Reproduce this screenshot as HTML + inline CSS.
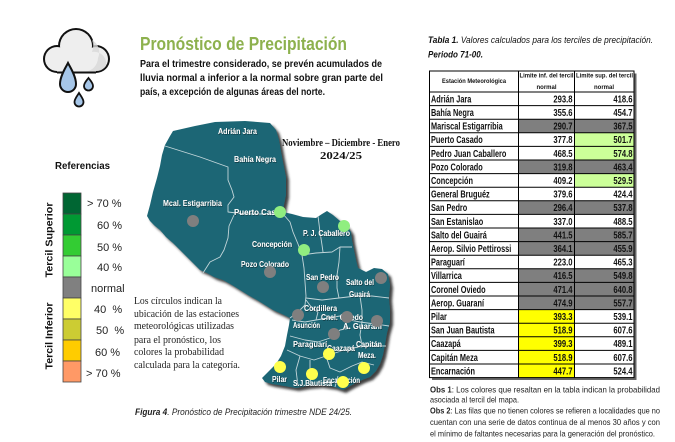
<!DOCTYPE html>
<html><head><meta charset="utf-8"><style>
html,body{margin:0;padding:0;background:#fff;}
svg{display:block;}
</style></head><body>
<svg width="675" height="442" viewBox="0 0 675 442" xmlns="http://www.w3.org/2000/svg">
<defs>
<filter id="sh" x="-10%" y="-10%" width="130%" height="130%">
<feDropShadow dx="3" dy="3" stdDeviation="1.3" flood-color="#222" flood-opacity="0.85"/>
</filter>
<filter id="ts" x="-10%" y="-30%" width="130%" height="160%">
<feDropShadow dx="0.6" dy="0.6" stdDeviation="0.3" flood-color="#000" flood-opacity="0.6"/>
</filter>
</defs>
<rect width="675" height="442" fill="#fff"/>

<!-- Cloud icon -->
<g>
<g fill="#111">
<circle cx="57" cy="59" r="14"/>
<circle cx="76" cy="46" r="18"/>
<circle cx="96" cy="59" r="14"/>
<rect x="57" y="57" width="39" height="16.5"/>
</g>
<g fill="#eeeeee">
<circle cx="57" cy="59" r="12"/>
<circle cx="76" cy="46" r="16"/>
<circle cx="96" cy="59" r="12"/>
<rect x="57" y="59" width="39" height="12.5"/>
</g>
<path d="M92,40 A16,16 0 0 1 92,52 A12,12 0 0 1 106,66 A12,12 0 0 1 96,71 L96,71.5 L86,71.5 A14,14 0 0 0 98,58 A14,14 0 0 0 92,40 Z" fill="#d8d8d8" opacity="0.8"/>
<path d="M68,63 C66,67 60,76 60,84 A8,8 0 0 0 76,84 C76,76 70,67 68,63 Z" fill="#a6c6e8" stroke="#111" stroke-width="2"/>
<path d="M88.5,78 C87,80 84,83 84,86 A4.5,4.5 0 0 0 93,86 C93,83 90,80 88.5,78 Z" fill="#a6c6e8" stroke="#111" stroke-width="1.8"/>
<path d="M79,93 C77.5,95.5 74.5,99 74.5,102 A4.5,4.5 0 0 0 83.5,102 C83.5,99 80.5,95.5 79,93 Z" fill="#a6c6e8" stroke="#111" stroke-width="1.8"/>
</g>

<!-- Title & paragraph -->
<text x="140" y="50" font-family="Liberation Sans, sans-serif" font-weight="bold" font-size="18" fill="#8db14e" textLength="207" lengthAdjust="spacingAndGlyphs">Pronóstico de Precipitación</text>
<g font-family="Liberation Sans, sans-serif" font-weight="bold" font-size="10.5" fill="#111">
<text x="140" y="67" textLength="242" lengthAdjust="spacingAndGlyphs">Para el trimestre considerado, se prevén acumulados de</text>
<text x="140" y="81" textLength="243" lengthAdjust="spacingAndGlyphs">lluvia normal a inferior a la normal sobre gran parte del</text>
<text x="140" y="95" textLength="185" lengthAdjust="spacingAndGlyphs">país, a excepción de algunas áreas del norte.</text>
</g>

<!-- Legend -->
<text x="55" y="169" font-family="Liberation Sans, sans-serif" font-weight="bold" font-size="10.5" fill="#111" textLength="55" lengthAdjust="spacingAndGlyphs">Referencias</text>
<g stroke="#444" stroke-width="0.8">
<rect x="63" y="193" width="18" height="21" fill="#006633"/>
<rect x="63" y="214" width="18" height="21" fill="#009933"/>
<rect x="63" y="235" width="18" height="21" fill="#33cc33"/>
<rect x="63" y="256" width="18" height="21" fill="#99ff99"/>
<rect x="63" y="277" width="18" height="21" fill="#808080"/>
<rect x="63" y="298" width="18" height="21" fill="#ffff66"/>
<rect x="63" y="319" width="18" height="21" fill="#cccc33"/>
<rect x="63" y="340" width="18" height="21" fill="#ffcc00"/>
<rect x="63" y="361" width="18" height="21" fill="#ff9966"/>
</g>
<g font-family="Liberation Sans, sans-serif" font-size="11" fill="#222">
<text x="87" y="207">&gt; 70 %</text>
<text x="97" y="229">60 %</text>
<text x="97" y="251">50 %</text>
<text x="97" y="271">40 %</text>
<text x="91" y="292">normal</text>
<text x="94" y="313">40 &#160;%</text>
<text x="96" y="334">50 &#160;%</text>
<text x="95" y="356">60 %</text>
<text x="86" y="377">&gt; 70 %</text>
</g>
<g font-family="Liberation Sans, sans-serif" font-weight="bold" font-size="10.5" fill="#111">
<text transform="translate(52.5,240) rotate(-90)" text-anchor="middle" textLength="75" lengthAdjust="spacingAndGlyphs">Tercil Superior</text>
<text transform="translate(52.5,336) rotate(-90)" text-anchor="middle" textLength="67" lengthAdjust="spacingAndGlyphs">Tercil Inferior</text>
</g>

<!-- Map -->
<g filter="url(#sh)">
<path d="M173,131 L195,126 L215,122 L245,121 L270,123 L276,130 L279,140 L282,157 L286,177 L286,195 L284,205 L283,212 L292,214 L303,217 L316,218 L322,214 L327,211 L333,215 L340,221 L347,226 L351,232 L352,240 L354,250 L356,260 L358,268 L366,272 L374,268 L382,269 L388,274 L390,285 L389,298 L390,310 L390,322 L387,333 L385,345 L383,355 L380,364 L376,371 L370,377 L362,380 L352,385 L343,390 L334,387 L320,385 L308,386 L296,388 L284,386 L272,384 L265,382 L262,378 L268,372 L276,364 L281,356 L285,346 L287,335 L289,325 L290,318 L282,314 L273,310 L265,305 L257,300 L248,295 L240,290 L232,285 L223,280 L214,277 L207,273 L200,270 L193,263 L187,257 L180,250 L173,243 L166,237 L160,230 L155,226 L150,221 L147,216 L150,205 L153,192 L157,178 L160,166 L162,155 L165,145 L170,136 Z" fill="#1e6674"/>
</g>
<g fill="none" stroke="#c3d6da" stroke-width="0.9" stroke-linejoin="round">
<path d="M165,146 L200,157 L228,167 L228,180 L232,190 L234,197 L228,205 L228,212 L245,214 L283,214"/>
<path d="M234,215 L229,226 L228,238 L224,250 L220,257 L210,262 L203,273"/>
<path d="M283,214 L290,222 L293,232 L298,244 L302,255 L304,268 L305,282 L306,296 L305,305 L298,312 L290,318"/>
<path d="M302,255 L316,253 L332,252 L340,247 L352,247"/>
<path d="M318,216 L320,232 L322,245 L323,252"/>
<path d="M340,247 L339,262 L337,275 L337,288 L339,298"/>
<path d="M306,298 L322,300 L339,298 L356,296 L372,296 L389,298"/>
<path d="M360,296 L362,310 L362,322 L360,335 L362,345"/>
<path d="M306,300 L312,308 L318,312 L316,320"/>
<path d="M292,320 L305,322 L316,320 L328,318 L340,316 L350,320 L360,322 L375,324 L389,326"/>
<path d="M290,336 L305,340 L318,342 L330,338 L340,330 L350,328"/>
<path d="M287,350 L300,356 L314,360 L326,356 L338,352 L352,348 L368,346 L386,346"/>
<path d="M310,360 L310,372 L311,386"/>
<path d="M326,356 L330,368 L340,372 L352,366 L362,362 L374,365"/>
<path d="M300,356 L296,370 L298,386"/>
<path d="M335,387 L338,376"/>
</g>
<g font-family="Liberation Sans, sans-serif" font-weight="bold" font-size="8" fill="#fff" filter="url(#ts)">
<text x="218" y="134" textLength="39" lengthAdjust="spacingAndGlyphs">Adrián Jara</text>
<text x="234" y="162" textLength="42" lengthAdjust="spacingAndGlyphs">Bahía Negra</text>
<text x="163" y="206" textLength="59" lengthAdjust="spacingAndGlyphs">Mcal. Estigarribia</text>
<text x="234" y="215" textLength="46" lengthAdjust="spacingAndGlyphs">Puerto Casa</text>
<text x="303" y="236" textLength="47" lengthAdjust="spacingAndGlyphs">P. J. Caballero</text>
<text x="252" y="247" textLength="40" lengthAdjust="spacingAndGlyphs">Concepción</text>
<text x="241" y="267" textLength="48" lengthAdjust="spacingAndGlyphs">Pozo Colorado</text>
<text x="306" y="280" textLength="33" lengthAdjust="spacingAndGlyphs">San Pedro</text>
<text x="346" y="285" textLength="28" lengthAdjust="spacingAndGlyphs">Salto del</text>
<text x="349" y="297" textLength="21" lengthAdjust="spacingAndGlyphs">Guairá</text>
<text x="304" y="311" textLength="33" lengthAdjust="spacingAndGlyphs">Cordillera</text>
<text x="321" y="320" textLength="42" lengthAdjust="spacingAndGlyphs">Cnel. Oviedo</text>
<text x="293" y="328" textLength="27" lengthAdjust="spacingAndGlyphs">Asunción</text>
<text x="343" y="329" textLength="39" lengthAdjust="spacingAndGlyphs">A. Guaraní</text>
<text x="293" y="347" textLength="34" lengthAdjust="spacingAndGlyphs">Paraguarí</text>
<text x="327" y="351" textLength="28" lengthAdjust="spacingAndGlyphs">Caazapá</text>
<text x="356" y="347" textLength="26" lengthAdjust="spacingAndGlyphs">Capitán</text>
<text x="358" y="358" textLength="18" lengthAdjust="spacingAndGlyphs">Meza.</text>
<text x="272" y="382" textLength="15" lengthAdjust="spacingAndGlyphs">Pilar</text>
<text x="293" y="386" textLength="39" lengthAdjust="spacingAndGlyphs">S.J.Bautista</text>
<text x="323" y="383" textLength="37" lengthAdjust="spacingAndGlyphs">Encarnación</text>
</g>
<g>
<circle cx="193" cy="221" r="6" fill="#7f7f7f"/>
<circle cx="280" cy="212" r="6" fill="#90ee80"/>
<circle cx="344" cy="226" r="6" fill="#90ee80"/>
<circle cx="304" cy="250" r="6" fill="#90ee80"/>
<circle cx="270" cy="272" r="6" fill="#7f7f7f"/>
<circle cx="323" cy="287" r="6" fill="#7f7f7f"/>
<circle cx="381" cy="278" r="6" fill="#7f7f7f"/>
<circle cx="298" cy="315" r="6" fill="#7f7f7f"/>
<circle cx="347" cy="317" r="6" fill="#7f7f7f"/>
<circle cx="377" cy="321" r="6" fill="#7f7f7f"/>
<circle cx="334" cy="334" r="6" fill="#7f7f7f"/>
<circle cx="329" cy="354" r="6" fill="#ffff4d"/>
<circle cx="364" cy="368" r="6" fill="#ffff4d"/>
<circle cx="280" cy="367" r="6" fill="#ffff4d"/>
<circle cx="312" cy="374" r="6" fill="#ffff4d"/>
<circle cx="343" cy="382" r="6" fill="#ffff4d"/>
</g>

<!-- Map header -->
<g font-family="Liberation Serif, serif" font-weight="bold" font-size="10.5" fill="#111">
<text x="282" y="146" textLength="118" lengthAdjust="spacingAndGlyphs">Noviembre – Diciembre - Enero</text>
<text x="320" y="159" textLength="42" lengthAdjust="spacingAndGlyphs">2024/25</text>
</g>

<!-- Left map paragraph -->
<g font-family="Liberation Serif, serif" font-size="10.5" fill="#222">
<text x="134" y="304" textLength="88" lengthAdjust="spacingAndGlyphs">Los círculos indican la</text>
<text x="134" y="317" textLength="105" lengthAdjust="spacingAndGlyphs">ubicación de las estaciones</text>
<text x="134" y="329" textLength="100" lengthAdjust="spacingAndGlyphs">meteorológicas utilizadas</text>
<text x="134" y="343" textLength="87" lengthAdjust="spacingAndGlyphs">para el pronóstico, los</text>
<text x="134" y="355" textLength="90" lengthAdjust="spacingAndGlyphs">colores la probabilidad</text>
<text x="134" y="368" textLength="106" lengthAdjust="spacingAndGlyphs">calculada para la categoría.</text>
</g>

<!-- Caption -->
<text x="135" y="415" font-family="Liberation Sans, sans-serif" font-style="italic" font-size="9.5" fill="#222" textLength="217" lengthAdjust="spacingAndGlyphs"><tspan font-weight="bold">Figura 4</tspan>. Pronóstico de Precipitación trimestre NDE 24/25.</text>

<!-- Table title -->
<g font-family="Liberation Sans, sans-serif" font-style="italic" font-size="9" fill="#111">
<text x="428" y="43" textLength="225" lengthAdjust="spacingAndGlyphs"><tspan font-weight="bold">Tabla 1.</tspan> Valores calculados para los terciles de precipitación.</text>
<text x="428" y="57.5" font-weight="bold" textLength="55" lengthAdjust="spacingAndGlyphs">Periodo 71-00.</text>
</g>

<!-- Table -->
<rect x="432" y="73.5" width="204.5" height="306.5" fill="#666"/>
<rect x="429.5" y="71" width="204.5" height="306.6" fill="#fff"/>
<g>
<g fill="#7f7f7f">
<rect x="518.5" y="119.2" width="115.5" height="13.6"/>
<rect x="518.5" y="160" width="115.5" height="13.6"/>
<rect x="518.5" y="200.8" width="115.5" height="13.6"/>
<rect x="518.5" y="228" width="115.5" height="27.2"/>
<rect x="518.5" y="268.8" width="115.5" height="40.8"/>
</g>
<g fill="#ccff99">
<rect x="574.5" y="132.8" width="59.5" height="27.2"/>
<rect x="574.5" y="173.6" width="59.5" height="13.6"/>
</g>
<rect x="518.5" y="309.6" width="56" height="68" fill="#ffff00"/>
</g>
<g stroke="#000" stroke-width="1" fill="none">
<rect x="429.5" y="71" width="204.5" height="306.6"/>
<line x1="518.5" y1="71" x2="518.5" y2="377.6"/>
<line x1="574.5" y1="71" x2="574.5" y2="377.6"/>
<line x1="429.5" y1="92" x2="634" y2="92"/>
<line x1="429.5" y1="105.6" x2="634" y2="105.6"/>
<line x1="429.5" y1="119.2" x2="634" y2="119.2"/>
<line x1="429.5" y1="132.8" x2="634" y2="132.8"/>
<line x1="429.5" y1="146.4" x2="634" y2="146.4"/>
<line x1="429.5" y1="160" x2="634" y2="160"/>
<line x1="429.5" y1="173.6" x2="634" y2="173.6"/>
<line x1="429.5" y1="187.2" x2="634" y2="187.2"/>
<line x1="429.5" y1="200.8" x2="634" y2="200.8"/>
<line x1="429.5" y1="214.4" x2="634" y2="214.4"/>
<line x1="429.5" y1="228" x2="634" y2="228"/>
<line x1="429.5" y1="241.6" x2="634" y2="241.6"/>
<line x1="429.5" y1="255.2" x2="634" y2="255.2"/>
<line x1="429.5" y1="268.8" x2="634" y2="268.8"/>
<line x1="429.5" y1="282.4" x2="634" y2="282.4"/>
<line x1="429.5" y1="296" x2="634" y2="296"/>
<line x1="429.5" y1="309.6" x2="634" y2="309.6"/>
<line x1="429.5" y1="323.2" x2="634" y2="323.2"/>
<line x1="429.5" y1="336.8" x2="634" y2="336.8"/>
<line x1="429.5" y1="350.4" x2="634" y2="350.4"/>
<line x1="429.5" y1="364" x2="634" y2="364"/>
</g>
<g font-family="Liberation Sans, sans-serif" font-weight="bold" font-size="6" fill="#111">
<text x="442" y="83" textLength="64" lengthAdjust="spacingAndGlyphs">Estación Meteorológica</text>
<text x="519.5" y="77.5" textLength="54" lengthAdjust="spacingAndGlyphs">Limite inf. del tercil</text>
<text x="546.5" y="89" text-anchor="middle">normal</text>
<text x="576" y="77.5" textLength="57" lengthAdjust="spacingAndGlyphs">Limite sup. del tercil</text>
<text x="604" y="89" text-anchor="middle">normal</text>
</g>
<g font-family="Liberation Sans, sans-serif" font-weight="bold" font-size="10.2" fill="#111">
<text transform="translate(431,102.4) scale(0.72,1)">Adrián Jara</text>
<text transform="translate(572.5,102.4) scale(0.75,1)" text-anchor="end">293.8</text>
<text transform="translate(632.5,102.4) scale(0.75,1)" text-anchor="end">418.6</text>

<text transform="translate(431,116) scale(0.72,1)">Bahía Negra</text>
<text transform="translate(572.5,116) scale(0.75,1)" text-anchor="end">355.6</text>
<text transform="translate(632.5,116) scale(0.75,1)" text-anchor="end">454.7</text>

<text transform="translate(431,129.6) scale(0.72,1)">Mariscal Estigarribia</text>
<text transform="translate(572.5,129.6) scale(0.75,1)" text-anchor="end">290.7</text>
<text transform="translate(632.5,129.6) scale(0.75,1)" text-anchor="end">367.5</text>

<text transform="translate(431,143.2) scale(0.72,1)">Puerto Casado</text>
<text transform="translate(572.5,143.2) scale(0.75,1)" text-anchor="end">377.8</text>
<text transform="translate(632.5,143.2) scale(0.75,1)" text-anchor="end">501.7</text>

<text transform="translate(431,156.8) scale(0.72,1)">Pedro Juan Caballero</text>
<text transform="translate(572.5,156.8) scale(0.75,1)" text-anchor="end">468.5</text>
<text transform="translate(632.5,156.8) scale(0.75,1)" text-anchor="end">574.8</text>

<text transform="translate(431,170.4) scale(0.72,1)">Pozo Colorado</text>
<text transform="translate(572.5,170.4) scale(0.75,1)" text-anchor="end">319.8</text>
<text transform="translate(632.5,170.4) scale(0.75,1)" text-anchor="end">463.4</text>

<text transform="translate(431,184) scale(0.72,1)">Concepción</text>
<text transform="translate(572.5,184) scale(0.75,1)" text-anchor="end">409.2</text>
<text transform="translate(632.5,184) scale(0.75,1)" text-anchor="end">529.5</text>

<text transform="translate(431,197.6) scale(0.72,1)">General Bruguéz</text>
<text transform="translate(572.5,197.6) scale(0.75,1)" text-anchor="end">379.6</text>
<text transform="translate(632.5,197.6) scale(0.75,1)" text-anchor="end">424.4</text>

<text transform="translate(431,211.2) scale(0.72,1)">San Pedro</text>
<text transform="translate(572.5,211.2) scale(0.75,1)" text-anchor="end">296.4</text>
<text transform="translate(632.5,211.2) scale(0.75,1)" text-anchor="end">537.8</text>

<text transform="translate(431,224.8) scale(0.72,1)">San Estanislao</text>
<text transform="translate(572.5,224.8) scale(0.75,1)" text-anchor="end">337.0</text>
<text transform="translate(632.5,224.8) scale(0.75,1)" text-anchor="end">488.5</text>

<text transform="translate(431,238.4) scale(0.72,1)">Salto del Guairá</text>
<text transform="translate(572.5,238.4) scale(0.75,1)" text-anchor="end">441.5</text>
<text transform="translate(632.5,238.4) scale(0.75,1)" text-anchor="end">585.7</text>

<text transform="translate(431,252) scale(0.72,1)">Aerop. Silvio Pettirossi</text>
<text transform="translate(572.5,252) scale(0.75,1)" text-anchor="end">364.1</text>
<text transform="translate(632.5,252) scale(0.75,1)" text-anchor="end">455.9</text>

<text transform="translate(431,265.6) scale(0.72,1)">Paraguarí</text>
<text transform="translate(572.5,265.6) scale(0.75,1)" text-anchor="end">223.0</text>
<text transform="translate(632.5,265.6) scale(0.75,1)" text-anchor="end">465.3</text>

<text transform="translate(431,279.2) scale(0.72,1)">Villarrica</text>
<text transform="translate(572.5,279.2) scale(0.75,1)" text-anchor="end">416.5</text>
<text transform="translate(632.5,279.2) scale(0.75,1)" text-anchor="end">549.8</text>

<text transform="translate(431,292.8) scale(0.72,1)">Coronel Oviedo</text>
<text transform="translate(572.5,292.8) scale(0.75,1)" text-anchor="end">471.4</text>
<text transform="translate(632.5,292.8) scale(0.75,1)" text-anchor="end">640.8</text>

<text transform="translate(431,306.4) scale(0.72,1)">Aerop. Guaraní</text>
<text transform="translate(572.5,306.4) scale(0.75,1)" text-anchor="end">474.9</text>
<text transform="translate(632.5,306.4) scale(0.75,1)" text-anchor="end">557.7</text>

<text transform="translate(431,320) scale(0.72,1)">Pilar</text>
<text transform="translate(572.5,320) scale(0.75,1)" text-anchor="end">393.3</text>
<text transform="translate(632.5,320) scale(0.75,1)" text-anchor="end">539.1</text>

<text transform="translate(431,333.6) scale(0.72,1)">San Juan Bautista</text>
<text transform="translate(572.5,333.6) scale(0.75,1)" text-anchor="end">518.9</text>
<text transform="translate(632.5,333.6) scale(0.75,1)" text-anchor="end">607.6</text>

<text transform="translate(431,347.2) scale(0.72,1)">Caazapá</text>
<text transform="translate(572.5,347.2) scale(0.75,1)" text-anchor="end">399.3</text>
<text transform="translate(632.5,347.2) scale(0.75,1)" text-anchor="end">489.1</text>

<text transform="translate(431,360.8) scale(0.72,1)">Capitán Meza</text>
<text transform="translate(572.5,360.8) scale(0.75,1)" text-anchor="end">518.9</text>
<text transform="translate(632.5,360.8) scale(0.75,1)" text-anchor="end">607.6</text>

<text transform="translate(431,374.4) scale(0.72,1)">Encarnación</text>
<text transform="translate(572.5,374.4) scale(0.75,1)" text-anchor="end">447.7</text>
<text transform="translate(632.5,374.4) scale(0.75,1)" text-anchor="end">524.4</text>
</g>

<!-- Obs -->
<g font-family="Liberation Sans, sans-serif" font-size="8.5" fill="#222">
<text x="430" y="392.5" textLength="230" lengthAdjust="spacingAndGlyphs"><tspan font-weight="bold">Obs 1</tspan>: Los colores que resaltan en la tabla indican la probabilidad</text>
<text x="430" y="402.5" textLength="89" lengthAdjust="spacingAndGlyphs">asociada al tercil del mapa.</text>
<text x="430" y="413.5" textLength="230" lengthAdjust="spacingAndGlyphs"><tspan font-weight="bold">Obs 2</tspan>: Las filas que no tienen colores se refieren a localidades que no</text>
<text x="430" y="425" textLength="230" lengthAdjust="spacingAndGlyphs">cuentan con una serie de datos continua de al menos 30 años y con</text>
<text x="430" y="436.5" textLength="225" lengthAdjust="spacingAndGlyphs">el mínimo de faltantes necesarias para la generación del pronóstico.</text>
</g>
</svg>
</body></html>
